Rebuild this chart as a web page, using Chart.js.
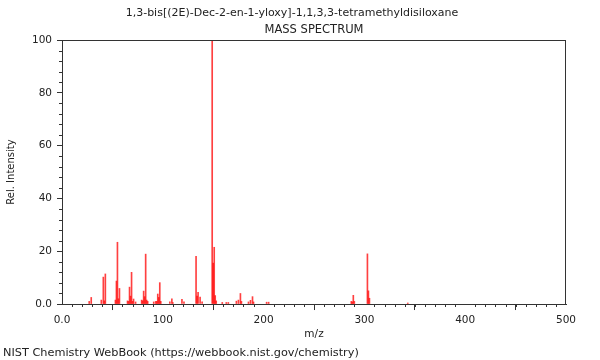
<!DOCTYPE html>
<html>
<head>
<meta charset="utf-8">
<script src="https://cdn.jsdelivr.net/npm/chart.js@4.4.1/dist/chart.umd.min.js"></script>
<style>
html,body{margin:0;padding:0;background:#ffffff;}
#wrap{width:600px;height:360px;position:relative;}
</style>
</head>
<body>
<div id="wrap"><canvas id="c" width="600" height="360"></canvas></div>
<script>
// ---- chart texts ----
const chartTitle = '1,3-bis[(2E)-Dec-2-en-1-yloxy]-1,1,3,3-tetramethyldisiloxane';
const chartSubtitle = 'MASS SPECTRUM';
const footerText = 'NIST Chemistry WebBook (https://webbook.nist.gov/chemistry)';
const xAxisTitle = 'm/z';
const yAxisTitle = 'Rel. Intensity';

// ---- data ----
const mzValues = [27, 29, 39, 41, 42, 43, 53, 54, 55, 56, 57, 65, 66, 67, 68, 69, 70, 71, 73,
  79, 80, 81, 82, 83, 84, 85, 91, 93, 94, 95, 96, 97, 98, 107, 109, 110, 119, 121,
  133, 134, 135, 137, 139, 149, 150, 151, 152, 153, 159, 163, 165, 173, 175, 177, 178,
  185, 187, 189, 190, 203, 205, 287, 288, 289, 290, 303, 304, 305, 343];
const relIntensity = [1.0, 2.5, 1.5, 10.2, 1.2, 11.4, 1.5, 8.7, 23.4, 2.0, 5.9, 1.2, 1.0, 6.4, 3.0, 12.0, 1.0, 1.9, 0.8,
  1.5, 1.2, 4.9, 2.8, 18.9, 1.5, 1.0, 0.8, 1.0, 1.0, 3.8, 2.5, 8.1, 1.0, 0.8, 2.0, 0.6, 1.8, 0.8,
  18.1, 3.0, 4.4, 2.6, 0.8, 100, 15.5, 21.5, 3.2, 1.2, 0.6, 0.6, 0.6, 1.1, 1.5, 4.0, 1.0,
  0.8, 1.4, 2.8, 0.8, 0.7, 0.7, 1.0, 0.8, 3.3, 1.0, 19.0, 5.0, 2.2, 0.4];

// ---- ticks ----
const xTickValues = [0, 100, 200, 300, 400, 500];
const xTickLabels = ['0.0', '100', '200', '300', '400', '500'];
const yTickValues = [0, 20, 40, 60, 80, 100];
const yTickLabels = ['0.0', '20', '40', '60', '80', '100'];
const xMinorStep = 10;
const yMinorStep = 4;

// ---- styles ----
const FONT = 'DejaVu Sans';
const textColor = '#222222';
const axisColor = '#333333';
const barColor = 'rgba(255,0,0,0.75)';

const points = mzValues.map((m, i) => ({ x: m, y: relIntensity[i] }));

const titleLines = {
  id: 'titleLines',
  afterDraw(chart) {
    const ctx = chart.ctx, a = chart.chartArea;
    ctx.save();
    ctx.fillStyle = textColor;
    ctx.textAlign = 'center';
    ctx.textBaseline = 'middle';
    ctx.font = '11px "' + FONT + '"';
    ctx.fillText(chartTitle, 292, 13);
    ctx.font = '11.5px "' + FONT + '"';
    ctx.fillText(chartSubtitle, (a.left + a.right) / 2, 30);
    ctx.restore();
  }
};

const frameAndMinor = {
  id: 'frameAndMinor',
  afterDraw(chart) {
    const ctx = chart.ctx, a = chart.chartArea;
    const xs = chart.scales.x, ys = chart.scales.y;
    ctx.save();
    ctx.strokeStyle = axisColor;
    ctx.lineWidth = 1;
    ctx.beginPath();
    const bottom = Math.round(a.bottom);
    const left = Math.round(a.left);
    for (let v = xs.min; v <= xs.max; v += xMinorStep) {
      if (xTickValues.includes(v)) continue;
      const px = Math.round(xs.getPixelForValue(v)) + 0.5;
      ctx.moveTo(px, bottom);
      ctx.lineTo(px, bottom + 3);
    }
    for (let v = ys.min; v <= ys.max; v += yMinorStep) {
      if (yTickValues.includes(v)) continue;
      const py = Math.round(ys.getPixelForValue(v)) + 0.5;
      ctx.moveTo(left - 3, py);
      ctx.lineTo(left, py);
    }
    const t = Math.round(a.top) + 0.5, r = Math.round(a.right) - 0.5;
    ctx.moveTo(left, t); ctx.lineTo(r + 0.5, t);
    ctx.moveTo(r, t); ctx.lineTo(r, bottom);
    ctx.stroke();
    ctx.restore();
  }
};

new Chart(document.getElementById('c'), {
  type: 'bar',
  data: {
    datasets: [{
      data: points,
      backgroundColor: barColor,
      borderWidth: 0,
      barThickness: 1,
      grouped: false
    }]
  },
  options: {
    responsive: false,
    devicePixelRatio: 1,
    animation: false,
    layout: { padding: { left: 3, right: 34, top: 40, bottom: 0 } },
    plugins: {
      legend: { display: false },
      tooltip: { enabled: false },
      title: { display: false },
      subtitle: {
        display: true,
        position: 'bottom',
        align: 'start',
        text: footerText,
        color: textColor,
        font: { family: FONT, size: 11.3, weight: 'normal', lineHeight: 1.2 },
        padding: { top: 4.4, bottom: 0 }
      }
    },
    scales: {
      x: {
        type: 'linear',
        min: 0,
        max: 500,
        offset: false,
        afterBuildTicks: s => { s.ticks = xTickValues.map(v => ({ value: v })); },
        afterFit: s => { s.height = 38; },
        ticks: {
          color: textColor,
          font: { family: FONT, size: 10.5 },
          padding: 4,
          maxRotation: 0,
          autoSkip: false,
          callback: v => xTickLabels[xTickValues.indexOf(v)]
        },
        grid: { display: true, drawOnChartArea: false, drawTicks: true, tickLength: 6, color: axisColor },
        border: { display: true, color: axisColor },
        title: {
          display: true,
          text: xAxisTitle,
          color: textColor,
          font: { family: FONT, size: 10.5 },
          padding: { top: 0, bottom: 1 }
        }
      },
      y: {
        type: 'linear',
        min: 0,
        max: 100,
        afterBuildTicks: s => { s.ticks = yTickValues.map(v => ({ value: v })); },
        afterFit: s => { s.width = 59; },
        ticks: {
          color: textColor,
          font: { family: FONT, size: 10.5 },
          padding: 5,
          autoSkip: false,
          callback: v => yTickLabels[yTickValues.indexOf(v)]
        },
        grid: { display: true, drawOnChartArea: false, drawTicks: true, tickLength: 5, color: axisColor },
        border: { display: true, color: axisColor },
        title: {
          display: true,
          text: yAxisTitle,
          color: textColor,
          font: { family: FONT, size: 10 },
          padding: { top: 2, bottom: 2 }
        }
      }
    }
  },
  plugins: [frameAndMinor, titleLines]
});
</script>
</body>
</html>
